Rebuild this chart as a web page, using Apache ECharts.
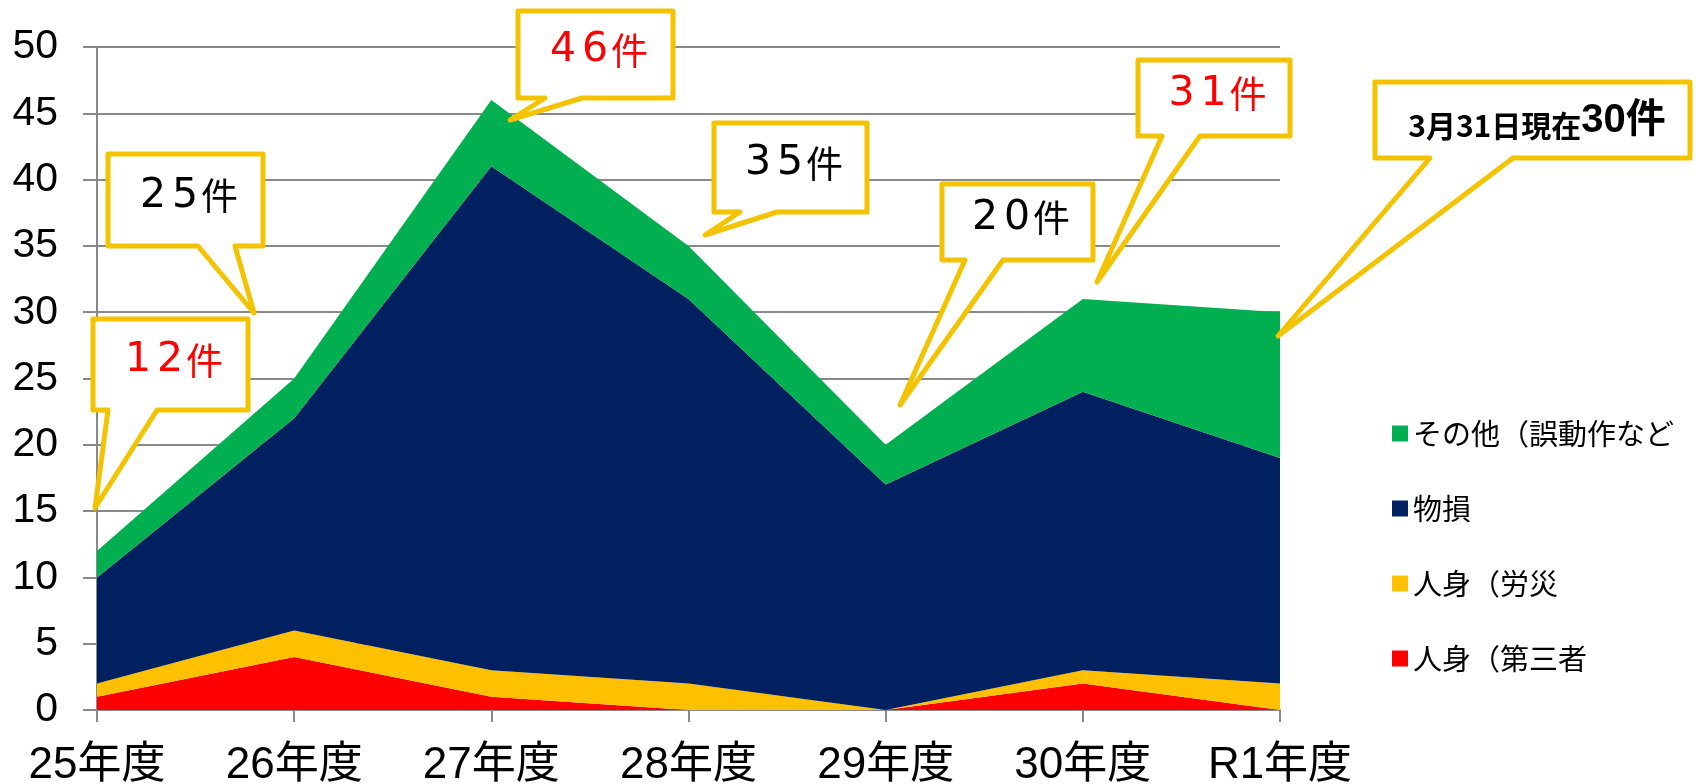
<!DOCTYPE html>
<html>
<head>
<meta charset="utf-8">
<script src="https://cdn.jsdelivr.net/npm/echarts@6/dist/echarts.min.js"></script>
<style>
html,body{margin:0;padding:0;background:#fff;}
#chart{width:1701px;height:784px;}
</style>
</head>
<body>
<div id="chart"></div>
<script>
// ---- data ----
const categories = ['25年度','26年度','27年度','28年度','29年度','30年度','R1年度'];
const yTicks = [0,5,10,15,20,25,30,35,40,45,50];
const thirdParty = [1, 4, 1, 0, 0, 2, 0];      // 人身（第三者
const workAccident = [1, 2, 2, 2, 0, 1, 2];    // 人身（労災
const propertyDamage = [8, 16, 38, 29, 17, 21, 17]; // 物損
const others = [2, 3, 5, 4, 3, 7, 11];         // その他（誤動作など
const seriesNames = ['人身（第三者','人身（労災','物損','その他（誤動作など'];
const calloutTexts = ['12件','25件','46件','35件','20件','31件'];
const calloutRed = [true,false,true,false,false,true];
const finalPrefix = '3月31日現在';
const finalCount = '30件';

// ---- styles / layout ----
const COLORS = ['#FF0000','#FFC000','#002060','#00B050'];
const GRAY = '#898989';
const CALLOUT = '#F3C300';
const FONT = '"Liberation Sans", Arial, "Noto Sans CJK JP", sans-serif';
const JFONT = '"Noto Sans CJK JP", sans-serif';
const DFONT = '"DejaVu Sans", sans-serif';

// callout boxes: [left, top, right, bottom, tailL, tailR, tipX, tipY]
const calloutBoxes = [
  [93, 319, 248, 410, 108, 157, 95, 508],
  [108, 154, 263, 246, 198, 235, 254, 313],
  [518, 11, 673, 98, 545, 582, 510, 120],
  [714, 123, 867, 212, 740, 777, 705, 235],
  [942, 184, 1093, 260, 965, 1003, 900, 405],
  [1138, 60, 1290, 136, 1162, 1200, 1097, 282]
];
const finalBox = [1375, 82, 1690, 158, 1430, 1513, 1278, 336];

function calloutShape(b) {
  const [l,t,r,bt,tl,tr,tx,ty] = b;
  return {
    type: 'polygon',
    z: 100,
    shape: { points: [[l,t],[r,t],[r,bt],[tr,bt],[tx,ty],[tl,bt],[l,bt]] },
    style: { fill: '#fff', stroke: CALLOUT, lineWidth: 5, lineJoin: 'round' }
  };
}

const graphics = [];
calloutBoxes.forEach((b, i) => {
  graphics.push(calloutShape(b));
  const chars = Array.from(calloutTexts[i]);
  const rt = chars.map(c => /\d/.test(c) ? '{d|' + c + '}' : '{k|' + c + '}').join('');
  const col = calloutRed[i] ? '#FF0000' : '#000';
  graphics.push({
    type: 'text', z: 101,
    x: (b[0]+b[2])/2 + 2, y: (b[1]+b[3])/2 - 4,
    style: {
      text: rt,
      align: 'center', verticalAlign: 'middle',
      rich: {
        d: { font: '41px ' + DFONT, fill: col, width: 32, align: 'center' },
        k: { font: '37px ' + JFONT, fill: col }
      }
    }
  });
});
graphics.push(calloutShape(finalBox));
graphics.push({
  type: 'text', z: 101,
  x: 1537, y: 121,
  style: {
    text: '{a|' + finalPrefix + '}{b|' + finalCount + '}',
    align: 'center', verticalAlign: 'middle',
    rich: {
      a: { font: 'bold 30px ' + JFONT, fill: '#000', verticalAlign: 'bottom' },
      b: { font: 'bold 40px ' + FONT, fill: '#000', verticalAlign: 'bottom' }
    }
  }
});

const seriesData = [thirdParty, workAccident, propertyDamage, others];

const chart = echarts.init(document.getElementById('chart'), null, {renderer:'canvas'});
chart.setOption({
  animation: false,
  backgroundColor: '#fff',
  grid: { left: 97, right: 421, top: 47, bottom: 74, containLabel: false, outerBoundsMode: 'none' },
  legend: {
    orient: 'vertical',
    left: 1387, top: 414,
    itemWidth: 16, itemHeight: 16, itemGap: 46,
    icon: 'rect',
    data: seriesNames.slice().reverse(),
    textStyle: { fontSize: 29, color: '#000', fontFamily: JFONT, lineHeight: 29, padding: [0,0,0,0] },
    selectedMode: false
  },
  xAxis: {
    type: 'category',
    data: categories,
    boundaryGap: false,
    axisLine: { lineStyle: { color: GRAY, width: 2 } },
    axisTick: { show: true, length: 12, lineStyle: { color: GRAY, width: 2 } },
    axisLabel: { margin: 34, fontSize: 44, color: '#000', fontFamily: FONT }
  },
  yAxis: {
    type: 'value',
    min: yTicks[0], max: yTicks[yTicks.length-1], interval: yTicks[1]-yTicks[0],
    axisLine: { show: true, lineStyle: { color: GRAY, width: 2 } },
    axisTick: { show: true, length: 14, lineStyle: { color: GRAY, width: 2 } },
    splitLine: { lineStyle: { color: GRAY, width: 2 } },
    axisLabel: { margin: 39, fontSize: 41, color: '#000', fontFamily: FONT }
  },
  series: seriesData.map((d, i) => ({
    name: seriesNames[i],
    type: 'line',
    stack: 'total',
    data: d,
    symbol: 'none',
    color: COLORS[i],
    lineStyle: { width: 0 },
    areaStyle: { color: COLORS[i], opacity: 1 },
    itemStyle: { color: COLORS[i] },
    z: 2
  })),
  graphic: graphics
});
</script>
</body>
</html>
